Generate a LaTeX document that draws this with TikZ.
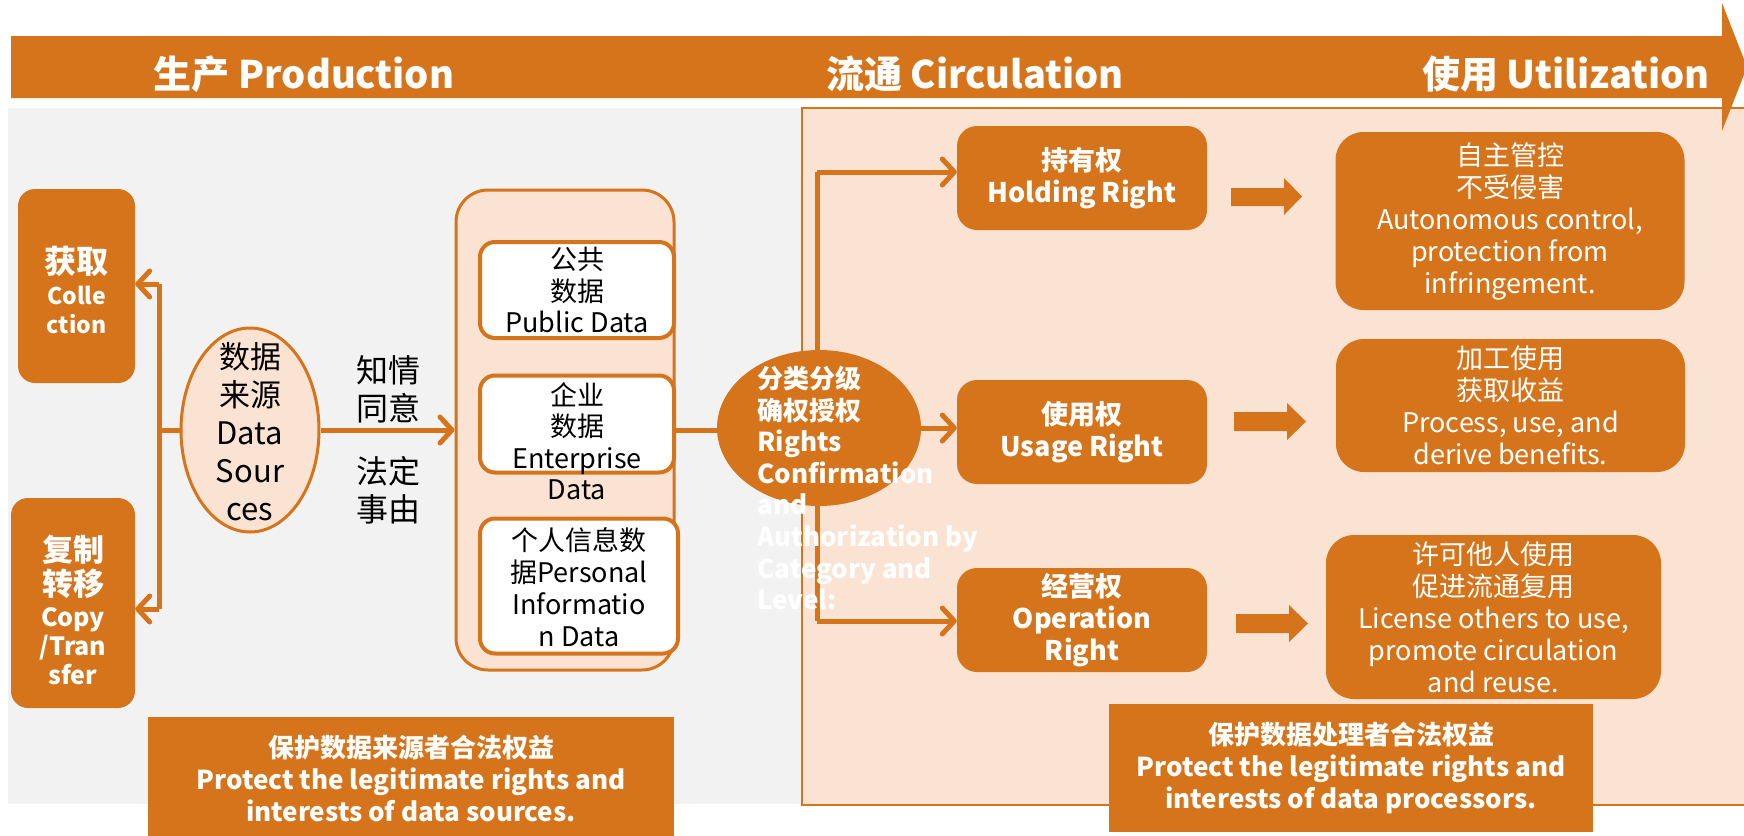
\documentclass[tikz,border=0pt]{standalone}
\usepackage{fontspec}
\setmainfont{Noto Sans CJK SC}
\usetikzlibrary{arrows.meta,shapes.geometric}
\definecolor{org}{RGB}{214,116,28}
\definecolor{pch}{RGB}{250,227,210}
\definecolor{gry}{RGB}{242,242,242}
\newcommand\fsz[2]{\fontsize{#1}{#2}\selectfont}
\begin{document}
\begin{tikzpicture}[x=1pt,y=-1pt,
  line/.style={draw=org, line width=5pt},
  arr/.style={line, -{Straight Barb[length=12pt,width=26pt,round]}},
  obox/.style={fill=org, rounded corners=17pt, text=white, align=center, inner sep=0pt},
  wbox/.style={draw=org, fill=white, line width=4pt, rounded corners=15pt, inner sep=0pt},
  rbox/.style={fill=org, rounded corners=20pt, text=white, align=center, font=\bfseries\fsz{27}{32}, minimum width=250pt, minimum height=104pt},
  resbox/.style={fill=org, rounded corners=28pt, text=white, align=center, font=\fsz{27}{32}},
  bartext/.style={text=white, font=\bfseries\fsz{38}{44}},
  btm/.style={fill=org, text=white, align=center, font=\bfseries\fsz{26}{32}},
  blk/.style={text=black, align=center}
]
\useasboundingbox (0,0) rectangle (1744,835);
% backgrounds
\fill[gry] (8,108) rectangle (802,804);
\draw[org, line width=2pt, fill=pch] (802,108) rectangle (1760,805);
% top bar arrow
\fill[org] (11,36) -- (1722,36) -- (1722,3) -- (1747,67) -- (1722,131) -- (1722,98) -- (11,98) -- cycle;
\node[bartext] (p1) at (304,74) {生产 Production};
\node[bartext] (p2) at (975,74) {流通 Circulation};
\node[bartext] (p3) at (1566,74) {使用 Utilization};

% left boxes
\node[obox, minimum width=117pt, minimum height=194pt] (col) at (76.5,286) {};
\node[text=white, align=center, font=\bfseries\fsz{23}{29}] (colT) at (76.5,290) {{\fsz{32}{34}获取}\\[2pt]Colle\\ction};
\node[obox, minimum width=124pt, minimum height=210pt] (cp) at (73,603) {};
\node[text=white, align=center, font=\bfseries\fsz{25}{29}] (cpT) at (73,610) {{\fsz{31}{36}复制}\\[4pt]{\fsz{31}{36}转移}\\[2pt]Copy\\/Tran\\sfer};

% data sources
\coordinate (vt) at (159,284);
\coordinate (vb) at (159,609);
\draw[line] (vt) -- (vb);
\node[ellipse, draw=org, line width=3pt, fill=pch, minimum width=138pt, minimum height=204pt, inner sep=0pt] (ds) at (250,430) {};
\node[blk, font=\fsz{31}{38}] (dsT) at (250,432) {数据\\来源\\Data\\Sour\\ces};
\draw[line] (ds.west) -- (ds.west -| vt);
\draw[arr] (vt) -- (vt -| col.east);
\draw[arr] (vb) -- (vb -| cp.east);

% container
\node[draw=org, line width=3pt, fill=pch, rounded corners=32pt, minimum width=218pt, minimum height=480pt, inner sep=0pt] (cont) at (565,430) {};
\draw[arr] (ds.east) -- (cont.west);
\node[blk, font=\fsz{32}{38}] (l1) at (388,389) {知情\\同意};
\node[blk, font=\fsz{32}{38}] (l2) at (388,490) {法定\\事由};

\node[wbox, minimum width=194pt, minimum height=96pt] (pub) at (577,290) {};
\node[wbox, minimum width=194pt, minimum height=97pt] (ent) at (577,424) {};
\node[wbox, minimum width=198pt, minimum height=135pt] (per) at (579,586) {};
\node[blk, font=\fsz{27}{31.5}] (pubT) at (577,290) {公共\\数据\\Public Data};
\node[blk, font=\fsz{27}{31.5}] (entT) at (577,441) {企业\\数据\\Enterprise\\Data};
\node[blk, font=\fsz{27}{32}] (perT) at (579,587) {个人信息数\\据Personal\\Informatio\\n Data};

% rights
\coordinate (tt) at (817,172);
\coordinate (tb) at (817,621);
\draw[line] (tt) -- (tb);
\node[ellipse, fill=org, minimum width=204pt, minimum height=156pt, inner sep=0pt] (rights) at (819,428) {};
\draw[line] (cont.east) -- (cont.east -| rights.west);
\node[text=white, align=left, anchor=west, font=\bfseries\fsz{26}{31.6}] (rightsT) at (754,488) {分类分级\\确权授权\\Rights\\Confirmation\\and\\Authorization by\\Category and\\Level:};

\node[rbox] (hold) at (1082,178) {持有权\\Holding Right};
\node[rbox] (use) at (1082,432) {使用权\\Usage Right};
\node[rbox] (op) at (1082,620) {经营权\\Operation\\Right};
\draw[arr] (tt) -- (tt -| hold.west);
\draw[arr] (rights.east) -- (rights.east -| use.west);
\draw[arr] (tb) -- (tb -| op.west);

% block arrows
\fill[org] (1231,188) -- (1284,188) -- (1284,178) -- (1302,196.5) -- (1284,215) -- (1284,206) -- (1231,206) -- cycle;
\fill[org] (1234,412) -- (1287,412) -- (1287,403) -- (1306,421.5) -- (1287,440) -- (1287,431) -- (1234,431) -- cycle;
\fill[org] (1236,614) -- (1289,614) -- (1289,605) -- (1308,623.5) -- (1289,642) -- (1289,633) -- (1236,633) -- cycle;

% results
\node[resbox, minimum width=349pt, minimum height=178pt] (r1) at (1510,221) {自主管控\\不受侵害\\Autonomous control,\\protection from\\infringement.};
\node[resbox, minimum width=349pt, minimum height=133pt] (r2) at (1510.5,405.5) {加工使用\\获取收益\\Process, use, and\\derive benefits.};
\node[resbox, minimum width=335pt, minimum height=164pt] (r3) at (1493.5,617) {许可他人使用\\促进流通复用\\License others to use,\\promote circulation\\and reuse.};

% bottom boxes
\node[btm, minimum width=526pt, minimum height=123pt] (b1) at (411,778.5) {保护数据来源者合法权益\\Protect the legitimate rights and\\interests of data sources.};
\node[btm, minimum width=484pt, minimum height=128pt] (b2) at (1351,768) {保护数据处理者合法权益\\Protect the legitimate rights and\\interests of data processors.};
\end{tikzpicture}
\end{document}
